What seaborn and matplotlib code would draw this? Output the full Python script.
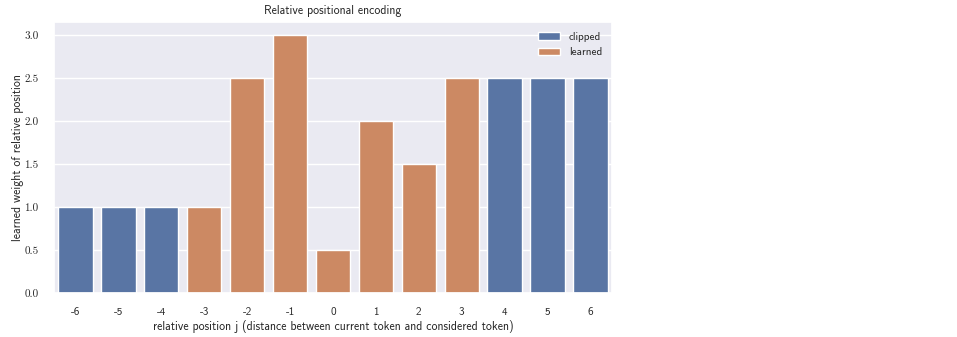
import matplotlib
matplotlib.use("Agg")
import matplotlib.pyplot as plt
import seaborn as sns
import pandas as pd

positions = [-6, -5, -4, -3, -2, -1, 0, 1, 2, 3, 4, 5, 6]
weights = [1.0, 1.0, 1.0, 1.0, 2.5, 3.0, 0.5, 2.0, 1.5, 2.5, 2.5, 2.5, 2.5]
kinds = ["clipped", "clipped", "clipped", "learned", "learned", "learned", "learned",
         "learned", "learned", "learned", "clipped", "clipped", "clipped"]
yticks = [0.0, 0.5, 1.0, 1.5, 2.0, 2.5, 3.0]

df = pd.DataFrame({"position": [str(p) for p in positions],
                   "weight": weights,
                   "kind": kinds})

sns.set_theme(style="darkgrid")
plt.rcParams["font.family"] = ["cmss10", "DejaVu Sans"]
plt.rcParams["axes.unicode_minus"] = False

fig = plt.figure(figsize=(9.57, 3.37), dpi=100)
ax = fig.add_axes([0.0564, 0.1306, 0.5830, 0.8044])

sns.barplot(data=df, x="position", y="weight", hue="kind", dodge=False,
            order=[str(p) for p in positions], hue_order=["clipped", "learned"], ax=ax)

ax.set_title("Relative positional encoding", fontsize=8.5)
ax.set_xlabel("relative position j (distance between current token and considered token)",
              fontsize=8.5, labelpad=2)
ax.set_ylabel("learned weight of relative position", fontsize=8.5, labelpad=0.5)
ax.set_yticks(yticks)
ax.set_yticklabels([f"{v:.1f}" for v in yticks], fontfamily="cmr10", fontsize=8)
ax.tick_params(axis="x", labelsize=8, pad=4)
ax.tick_params(axis="y", pad=5)
ax.legend(loc="upper right", frameon=False, fontsize=8, title=None)

fig.savefig("out.png", dpi=100)
